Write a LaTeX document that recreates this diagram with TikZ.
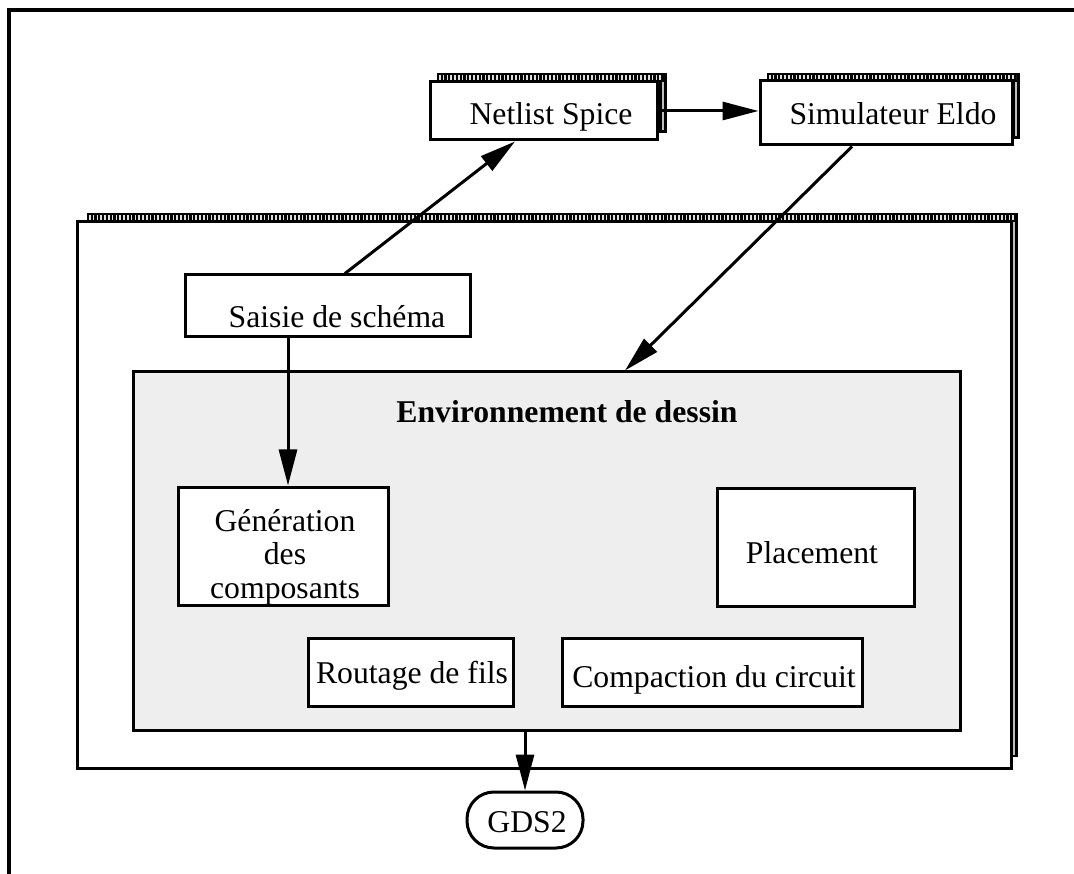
\documentclass[tikz,border=0pt]{standalone}
\usepackage{fontspec}
\setmainfont{Liberation Serif}
\usetikzlibrary{arrows.meta}
\definecolor{envgray}{HTML}{EEEEEE}
\newcommand\stackshadow[4]{%
  \fill[white] (#1,#2) rectangle (#3,#4);
  \fill[black] (#1,#2) rectangle (#3,#2+10);
  \fill[black] (#3-8,#2) rectangle (#3,#4);
  \draw[white!75!gray, line width=5pt, dash pattern=on 1.6pt off 2.2pt] (#1+2,#2+5) -- (#3-4,#2+5);
  \draw[gray!50, line width=2.2pt] (#3-4,#2+9) -- (#3-4,#4-2.5);
}
\begin{document}
\begin{tikzpicture}[x=1pt,y=-1pt,
  box/.style={draw=black, line width=3pt, fill=white, inner sep=0pt},
  lbl/.style={font=\fontsize{31.7}{33.5}\selectfont, inner sep=0pt, align=center, anchor=base},
  arr/.style={line width=3pt, -{Triangle[length=36pt,width=18pt]}},
]
\useasboundingbox (0,0) rectangle (1074,874);
% outer partial frame
\draw[line width=3.5pt] (9,874) -- (9,10) -- (1074,10);

% top boxes
\stackshadow{437}{73}{667}{133}
\node[box, minimum width=227pt, minimum height=58pt] (net) at (543.5,111) {};
\node[lbl] (nett) at (551,125) {Netlist Spice};

\stackshadow{767}{73}{1020}{139}
\node[box, minimum width=252pt, minimum height=64pt] (sim) at (886,113) {};
\node[lbl] (simt) at (893,125) {Simulateur Eldo};

% big environment frame
\stackshadow{87}{213}{1018}{757}
\node[box, minimum width=934pt, minimum height=546pt] (big) at (544,495) {};

% saisie
\node[box, minimum width=285pt, minimum height=62pt] (saisie) at (327.5,306) {};
\node[lbl] (saisiet) at (337,328) {Saisie de schéma};

% gray environment
\node[box, fill=envgray, minimum width=827pt, minimum height=358pt] (gray) at (546.5,551) {};
\node[lbl, font=\fontsize{31.7}{33.5}\selectfont\bfseries] (envt) at (567,423) {Environnement de dessin};

\node[box, minimum width=210pt, minimum height=118pt] (gen) at (283,546) {};
\node[lbl, anchor=center] (gent) at (285,557) {Génération\\des\\composants};

\node[box, minimum width=197pt, minimum height=118pt] (plac) at (815.5,547) {};
\node[lbl] (plact) at (812,563) {Placement};

\node[box, minimum width=205pt, minimum height=68pt] (rout) at (410.5,672) {};
\node[lbl] (routt) at (412,683) {Routage de fils};

\node[box, minimum width=300pt, minimum height=68pt] (comp) at (712,672) {};
\node[lbl] (compt) at (714,687) {Compaction du circuit};

\node[draw=black, line width=3pt, fill=white, rounded corners=27pt, minimum width=116pt, minimum height=56pt, inner sep=0pt] (gds) at (525,820) {};
\node[lbl] (gdst) at (527,832) {GDS2};

% arrows
\draw[arr] ([xshift=17.5pt]saisie.north) -- ([xshift=-28.5pt]net.south);
\draw[arr] (net.east) -- (sim.west |- net.east);
\draw[arr] ([xshift=-34pt]sim.south) -- ([xshift=78.5pt]gray.north);
\draw[arr] ([xshift=-39.5pt]saisie.south) -- ([xshift=-39.5pt]saisie.south |- gen.north);
\draw[arr] (gds.north |- gray.south) -- (gds.north);
\end{tikzpicture}
\end{document}
